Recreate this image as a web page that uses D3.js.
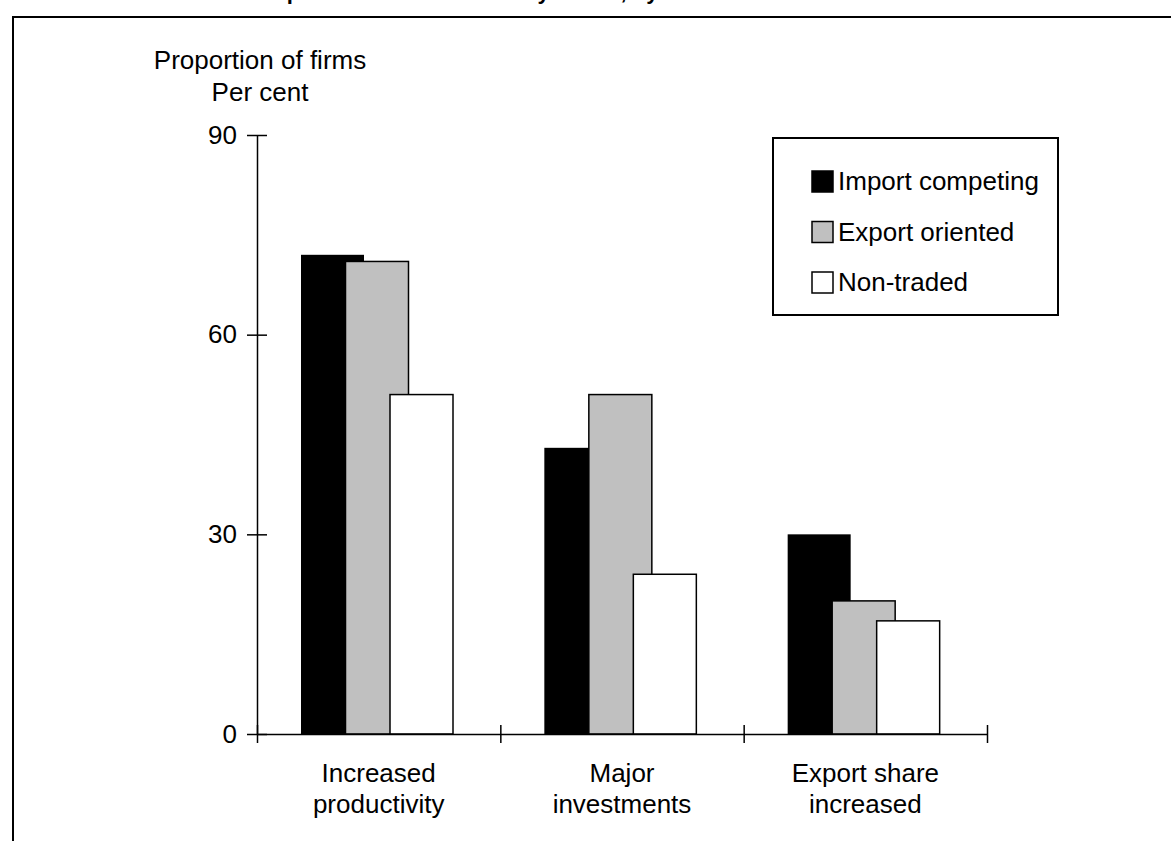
<!DOCTYPE html>
<html lang="en">
<meta charset="utf-8">
<style>
body {
  margin: 0;
  background: #fff;
}
text {
  font-family: "Liberation Sans", Arial, sans-serif;
  font-size: 26px;
  fill: #000;
}
</style>
<body>
<script src="https://d3js.org/d3.v7.min.js"></script>
<div id="chart"></div>
<script>
// chart data
var categories = [["Increased", "productivity"], ["Major", "investments"], ["Export share", "increased"]];
var seriesNames = ["Import competing", "Export oriented", "Non-traded"];
var importCompeting = [72, 43, 30];
var exportOriented = [71, 51, 20];
var nonTraded = [51, 24, 17];
var yTicks = [0, 30, 60, 90];
var fills = ["#000000", "#c0c0c0", "#ffffff"];

var width = 1171,
    height = 841;

var svg = d3.select("#chart").append("svg")
    .attr("width", width)
    .attr("height", height);

// outer frame, runs off the page on the right and bottom
svg.append("rect")
    .attr("x", 13).attr("y", 17)
    .attr("width", 1300).attr("height", 1000)
    .attr("fill", "none")
    .attr("stroke", "#000")
    .attr("stroke-width", 2);

// title, mostly cut off above the frame
svg.append("text")
    .attr("x", 200).attr("y", -1)
    .style("font-weight", "bold")
    .style("font-size", "22px")
    .text("Firm responses to the reforms by sector, by size");

var x = d3.scaleBand()
    .domain(d3.range(categories.length))
    .range([257, 987]);

var sub = d3.scaleLinear()
    .domain([0, seriesNames.length - 1])
    .range([44, 133]);
var barWidth = 63;

var y = d3.scaleLinear()
    .domain([0, 90])
    .range([734, 135]);

var series = [importCompeting, exportOriented, nonTraded];

// bars, drawn series by series so later ones sit on top
series.forEach(function(values, s) {
  svg.append("g").selectAll("rect")
      .data(values)
    .enter().append("rect")
      .attr("x", function(d, i) { return x(i) + sub(s); })
      .attr("y", function(d) { return y(d); })
      .attr("width", barWidth)
      .attr("height", function(d) { return y(0) - y(d); })
      .attr("fill", fills[s])
      .attr("stroke", s == 0 ? "none" : "#000")
      .attr("stroke-width", 1.5);
});

// y axis
var yAxis = svg.append("g")
    .attr("transform", "translate(257,0)")
    .call(d3.axisLeft(y).tickValues(yTicks).tickSize(10).tickSizeOuter(0).tickPadding(10));
yAxis.selectAll(".tick line").attr("x1", 10).attr("stroke-width", 1.5);
yAxis.select(".domain").attr("stroke-width", 1.5);
yAxis.selectAll("text").style("font-size", "26px").style("font-family", "Liberation Sans, Arial, sans-serif");

// x axis with ticks between the categories
var xEdge = d3.scaleLinear().domain([0, categories.length]).range(x.range());
var xAxis = svg.append("g")
    .attr("transform", "translate(0," + y(0) + ")")
    .call(d3.axisBottom(xEdge).tickValues(d3.range(categories.length + 1)).tickSize(9).tickSizeOuter(0).tickFormat(""));
xAxis.selectAll(".tick line").attr("y1", -9).attr("stroke-width", 1.5);
xAxis.select(".domain").attr("stroke-width", 1.5);

// category labels
svg.append("g").selectAll("text")
    .data(categories)
  .enter().append("text")
    .attr("text-anchor", "middle")
    .each(function(d, i) {
      var t = d3.select(this);
      d.forEach(function(line, j) {
        t.append("tspan")
            .attr("x", x(i) + x.bandwidth() / 2)
            .attr("y", 782 + j * 31)
            .text(line);
      });
    });

// y axis title
svg.append("text")
    .attr("x", 260).attr("y", 69)
    .attr("text-anchor", "middle")
    .text("Proportion of firms");
svg.append("text")
    .attr("x", 260).attr("y", 101)
    .attr("text-anchor", "middle")
    .text("Per cent");

// legend
var legend = svg.append("g");
legend.append("rect")
    .attr("x", 773).attr("y", 138)
    .attr("width", 285).attr("height", 177)
    .attr("fill", "#fff")
    .attr("stroke", "#000")
    .attr("stroke-width", 2);

var item = legend.selectAll(".item")
    .data(seriesNames)
  .enter().append("g")
    .attr("class", "item")
    .attr("transform", function(d, i) { return "translate(812," + (181 + i * 50.5) + ")"; });

item.append("rect")
    .attr("x", 0).attr("y", -10)
    .attr("width", 21).attr("height", 21)
    .attr("fill", function(d, i) { return fills[i]; })
    .attr("stroke", "#000")
    .attr("stroke-width", 1.5);

item.append("text")
    .attr("x", 26)
    .attr("dy", "0.36em")
    .text(function(d) { return d; });
</script>
</body>
</html>
